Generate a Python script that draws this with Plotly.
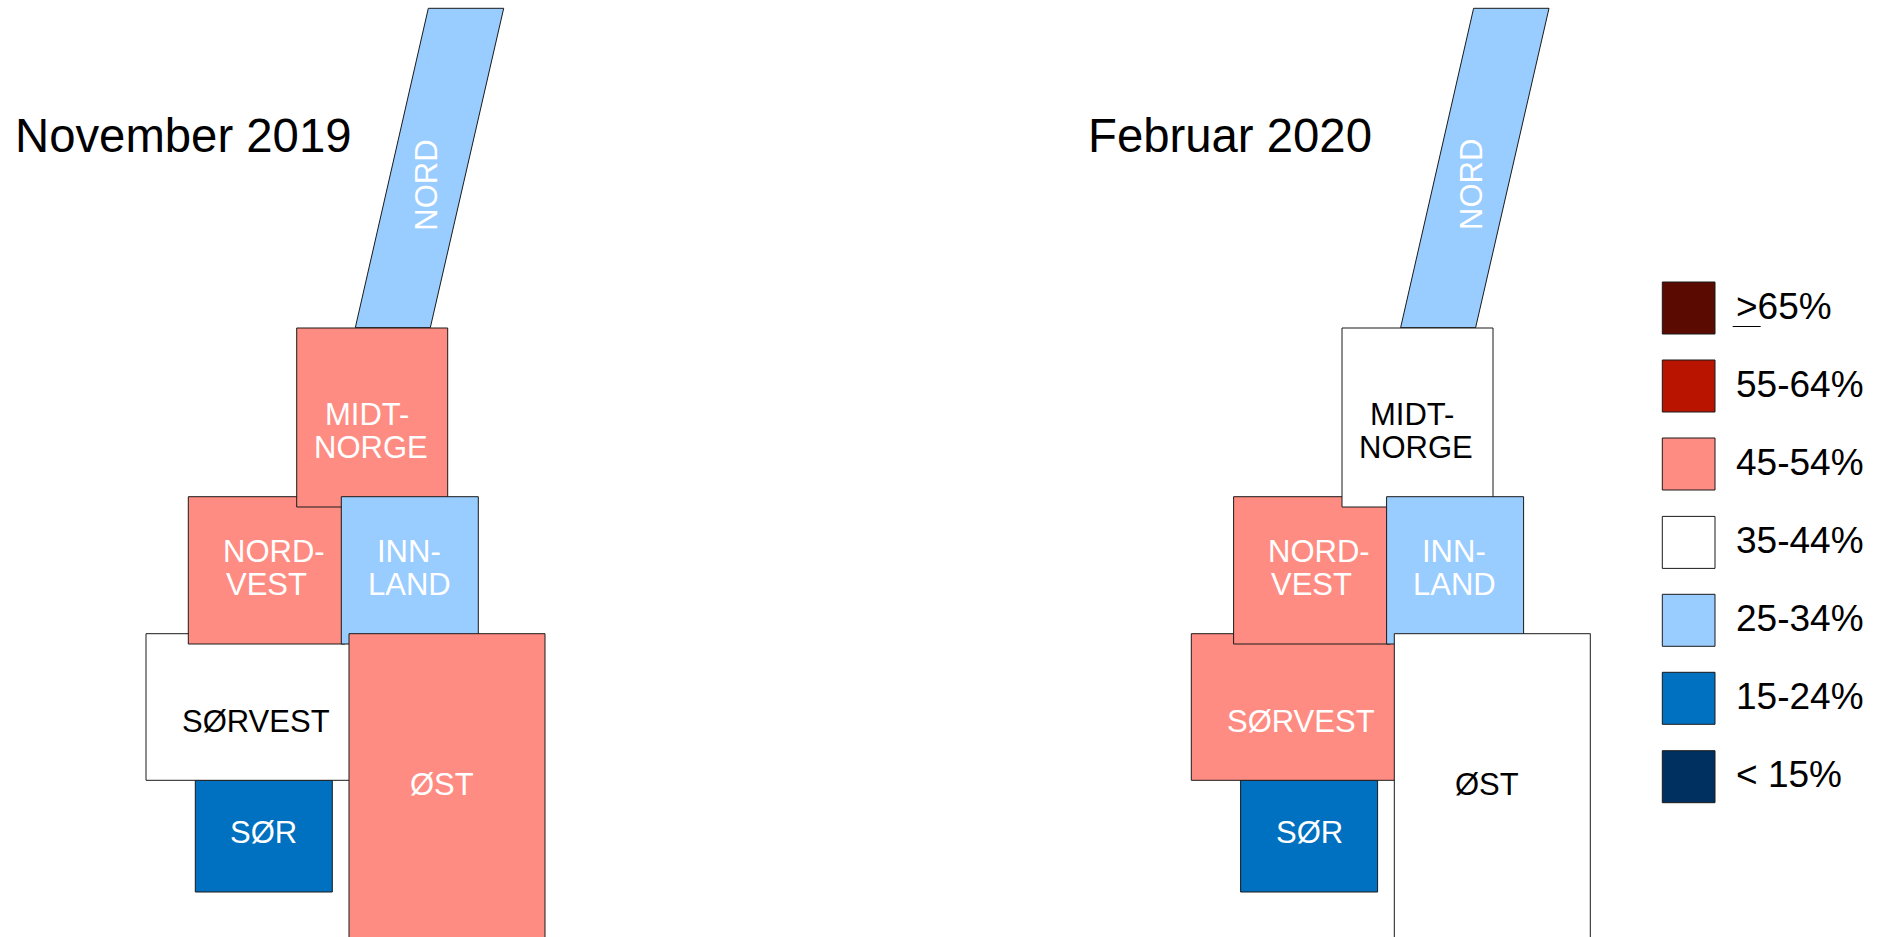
import plotly.graph_objects as go

# Share bands (legend, top to bottom)
band_labels = [">65%", "55-64%", "45-54%", "35-44%", "25-34%", "15-24%", "< 15%"]
band_colors = ["#5A0A00", "#B81400", "#FF8C82", "#FFFFFF", "#99CCFF", "#0070C0", "#003060"]

# Regions, listed in drawing order
regions = ["NORD", "SØR", "SØRVEST", "NORDVEST", "MIDT-NORGE", "INNLAND", "ØST"]

# Band of every region, as a label from band_labels
nov_2019 = ["25-34%", "15-24%", "35-44%", "45-54%", "45-54%", "25-34%", "45-54%"]
feb_2020 = ["25-34%", "15-24%", "45-54%", "45-54%", "35-44%", "25-34%", "35-44%"]

# Cartogram outline of every region (page pixels of the first panel)
region_x = [
    [355.3, 428.3, 503.7, 430.3],
    [195.3, 195.3, 332.3, 332.3],
    [146.0, 146.0, 352.0, 352.0],
    [188.3, 188.3, 345.0, 345.0],
    [296.7, 296.7, 447.7, 447.7],
    [341.3, 341.3, 478.3, 478.3],
    [349.0, 349.0, 545.0, 545.0],
]
region_y = [
    [327.7, 8.3, 8.3, 327.7],
    [892.0, 780.3, 780.3, 892.0],
    [780.3, 633.7, 633.7, 780.3],
    [644.0, 496.7, 496.7, 644.0],
    [507.0, 328.0, 328.0, 507.0],
    [644.0, 496.7, 496.7, 644.0],
    [945.0, 633.7, 633.7, 945.0],
]

# Label lines: region index, text, x, y, angle
label_region = [0, 4, 4, 3, 3, 5, 5, 2, 6, 1]
label_text = ["NORD", "MIDT-", "NORGE", "NORD-", "VEST", "INN-", "LAND", "SØRVEST", "ØST", "SØR"]
label_x = [425.7, 366.7, 370.7, 274.0, 266.0, 409.0, 409.0, 255.7, 442.0, 263.7]
label_y = [185.0, 414.8, 447.2, 551.9, 584.0, 551.9, 584.0, 721.4, 784.0, 832.3]
label_angle = [-90, 0, 0, 0, 0, 0, 0, 0, 0, 0]

panel_titles = ["November 2019", "Februar 2020"]
panel_title_x = [15.0, 1087.5]
panel_shift = [0.0, 1045.3]
panel_bands = [nov_2019, feb_2020]

legend_left, legend_right = 1662.3, 1715.0
legend_tops = [282.0, 360.0, 438.0, 516.4, 594.3, 672.3, 750.7]
legend_height = 52.0

FONT = "Liberation Sans"
OUTLINE = "#1a1a1a"
color_of = dict(zip(band_labels, band_colors))

fig = go.Figure()
annotations = []


def text(x, y, s, size, color="#000000", anchor="center", angle=0):
    annotations.append(dict(
        x=x, y=y, xref="x", yref="y", text=s, showarrow=False,
        xanchor=anchor, yanchor="middle", textangle=angle, align="center",
        borderpad=0, borderwidth=0,
        font=dict(family=FONT, size=size, color=color),
    ))


for title, tx, shift, bands in zip(panel_titles, panel_title_x, panel_shift, panel_bands):
    text(tx, 135.5, title, 47.3, anchor="left")
    for name, xs, ys, band in zip(regions, region_x, region_y, bands):
        fig.add_trace(go.Scatter(
            x=[v + shift for v in xs + xs[:1]], y=ys + ys[:1], mode="lines",
            fill="toself", fillcolor=color_of[band], name=name,
            line=dict(color=OUTLINE, width=1), hoverinfo="name", showlegend=False,
        ))
    for r, s, x, y, a in zip(label_region, label_text, label_x, label_y, label_angle):
        ink = "#000000" if bands[r] == "35-44%" else "#FFFFFF"
        text(x + shift, y, s, 31, color=ink, angle=a)

for label, color, top in zip(band_labels, band_colors, legend_tops):
    fig.add_trace(go.Scatter(
        x=[legend_left, legend_left, legend_right, legend_right, legend_left],
        y=[top, top + legend_height, top + legend_height, top, top], mode="lines",
        fill="toself", fillcolor=color, name=label,
        line=dict(color=OUTLINE, width=1), hoverinfo="name", showlegend=False,
    ))
    text(1736, top + 24, label, 37, anchor="left")

# The underline that turns ">" into "at least"
fig.add_trace(go.Scatter(
    x=[1732.7, 1760.7], y=[326.5, 326.5], mode="lines",
    line=dict(color="#000000", width=1), hoverinfo="skip", showlegend=False,
))

fig.update_layout(
    width=1881, height=937, margin=dict(l=0, r=0, t=0, b=0),
    paper_bgcolor="#FFFFFF", plot_bgcolor="#FFFFFF",
    xaxis=dict(range=[0, 1881], visible=False, fixedrange=True),
    yaxis=dict(range=[937, 0], visible=False, fixedrange=True),
    annotations=annotations,
)
fig.write_html("out.html", config=dict(displayModeBar=False),
               post_script="document.body.style.margin='0';document.body.style.overflow='hidden';")
